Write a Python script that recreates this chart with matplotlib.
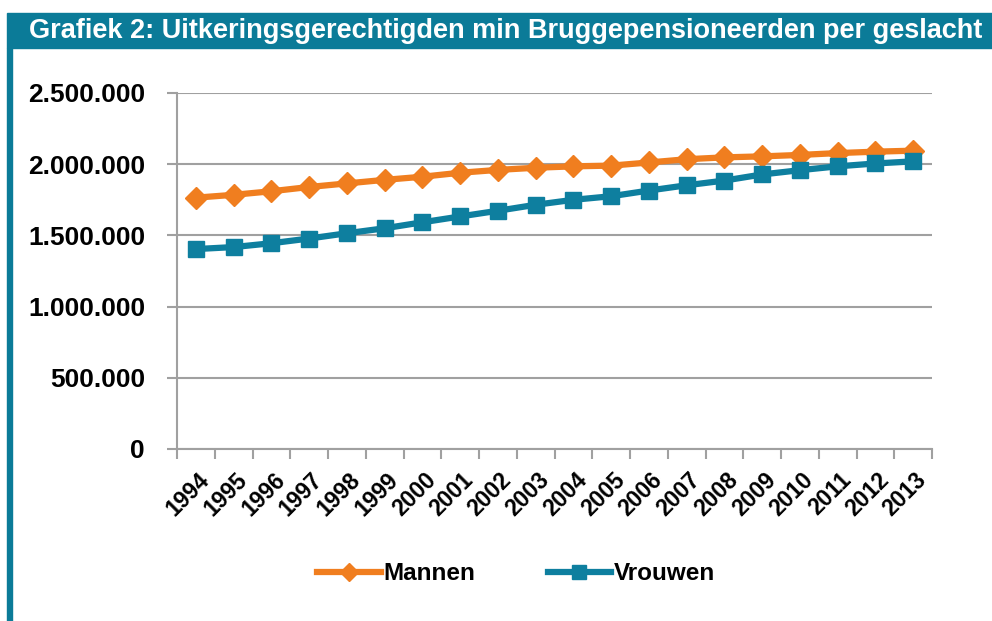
import numpy as np
import matplotlib.pyplot as plt
import matplotlib.transforms as mtrans
from matplotlib.patches import Rectangle
from matplotlib.ticker import FuncFormatter

plt.rcParams['font.family'] = ['Liberation Sans', 'DejaVu Sans']

# data
years = [str(y) for y in range(1994, 2014)]
mannen = [1765000, 1785000, 1810000, 1840000, 1865000, 1890000, 1912000, 1940000,
          1960000, 1975000, 1985000, 1990000, 2012000, 2035000, 2048000, 2055000,
          2065000, 2078000, 2088000, 2095000]
vrouwen = [1404000, 1418000, 1445000, 1478000, 1515000, 1550000, 1592000, 1633000,
           1673000, 1715000, 1750000, 1775000, 1815000, 1852000, 1885000, 1928000,
           1958000, 1985000, 2005000, 2020000]
y_ticks = [0, 500000, 1000000, 1500000, 2000000, 2500000]
title = 'Grafiek 2: Uitkeringsgerechtigden min Bruggepensioneerden per geslacht'

orange = '#F07E1F'
teal = '#0E7F9F'
banner = '#0B7B98'
grid_c = '#A0A0A0'

fig = plt.figure(figsize=(9.92, 6.21), dpi=100)

# title banner + left bar
fig.patches.append(Rectangle((7/992, 1-48/621), 1, 35/621, transform=fig.transFigure,
                             color=banner, zorder=0))
fig.patches.append(Rectangle((7/992, 0), 5/992, 1-48/621, transform=fig.transFigure,
                             color=banner, zorder=0))
fig.text(29/992, 1-31/621, title, color='white', fontsize=19.5, fontweight='bold',
         va='center', ha='left')

ax = fig.add_axes([177/992, 1-449/621, (932-177)/992, (449-93)/621])
x = np.arange(len(years))
ax.plot(x, mannen, color=orange, lw=4.5, marker='D', ms=11, label='Mannen', zorder=3)
ax.plot(x, vrouwen, color=teal, lw=4.5, marker='s', ms=12, label='Vrouwen', zorder=3)

ax.set_xlim(-0.5, len(years) - 0.5)
ax.set_ylim(0, 2500000)
ax.set_yticks(y_ticks)
ax.yaxis.set_major_formatter(FuncFormatter(lambda v, p: '{:,.0f}'.format(v).replace(',', '.')))
ax.grid(axis='y', color=grid_c, lw=1.5)
ax.set_axisbelow(True)

ax.set_xticks(np.arange(len(years) + 1) - 0.5, minor=False)
ax.set_xticklabels([])
ax.set_xticks(x, minor=True)
ax.set_xticklabels(years, minor=True, rotation=45, ha='right', va='center',
                   rotation_mode='anchor', fontsize=16.5, fontweight='bold')
ax.tick_params(axis='x', which='major', length=7, color=grid_c, width=1.5)
ax.tick_params(axis='x', which='minor', length=0, pad=20)
ax.tick_params(axis='y', length=7, color=grid_c, width=1.5, labelsize=19, pad=16)
for lab in ax.get_yticklabels():
    lab.set_fontweight('bold')
shift = mtrans.ScaledTranslation(10/100, 0, fig.dpi_scale_trans)
for lab in ax.get_xticklabels(minor=True):
    lab.set_transform(lab.get_transform() + shift)

for s in ['top', 'right']:
    ax.spines[s].set_visible(False)
for s in ['left', 'bottom']:
    ax.spines[s].set_color(grid_c)
    ax.spines[s].set_linewidth(1.5)

fig.legend(loc='center', bbox_to_anchor=(516/992, 1-574/621), ncol=2, frameon=False,
           prop={'size': 17.5, 'weight': 'bold'}, handlelength=2.6, handletextpad=0.1,
           columnspacing=3.0, markerscale=0.8)

fig.savefig('out.png', dpi=100)
